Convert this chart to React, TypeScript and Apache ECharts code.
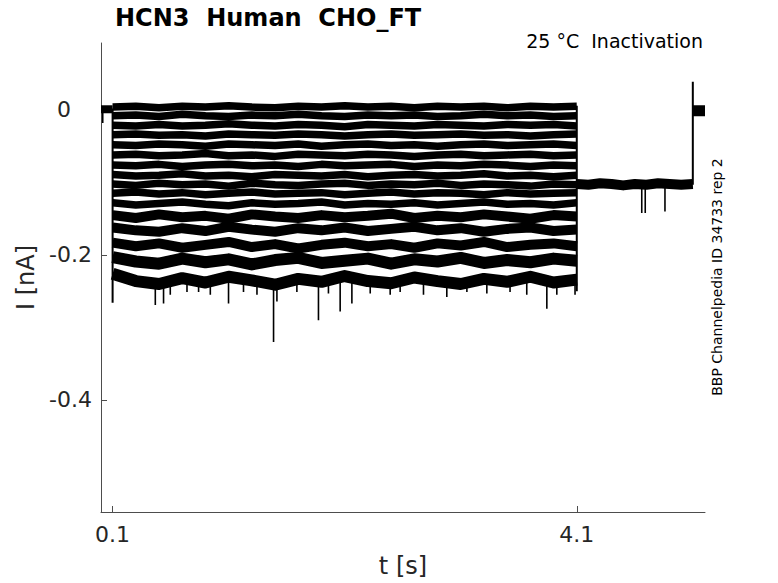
import React, { useEffect, useRef } from 'react';
import * as echarts from 'echarts';

// ---- time base of the 4 s conditioning step (s) ----
const TRACE_T = [0.1, 0.3, 0.5, 0.7, 0.9, 1.1, 1.3, 1.5, 1.7, 1.9, 2.1, 2.3, 2.5, 2.7, 2.9, 3.1, 3.3, 3.5, 3.7, 3.9, 4.1];

// ---- current traces during the step (nA) ----
const TRACE_1 = [0.004, 0.005, 0.003, 0.005, 0.004, 0.006, 0.004, 0.003, 0.005, 0.004, 0.006, 0.004, 0.005, 0.003, 0.005, 0.004, 0.005, 0.003, 0.005, 0.004, 0.005];
const TRACE_2 = [-0.008, -0.007, -0.009, -0.006, -0.008, -0.009, -0.007, -0.008, -0.006, -0.008, -0.009, -0.007, -0.008, -0.007, -0.009, -0.008, -0.006, -0.008, -0.007, -0.009, -0.008];
const TRACE_3 = [-0.021, -0.022, -0.02, -0.022, -0.021, -0.019, -0.021, -0.022, -0.02, -0.021, -0.023, -0.02, -0.021, -0.022, -0.02, -0.021, -0.022, -0.02, -0.021, -0.02, -0.022];
const TRACE_4 = [-0.034, -0.033, -0.035, -0.034, -0.036, -0.033, -0.034, -0.035, -0.033, -0.034, -0.036, -0.034, -0.033, -0.035, -0.034, -0.033, -0.035, -0.034, -0.036, -0.034, -0.033];
const TRACE_5 = [-0.048, -0.049, -0.047, -0.048, -0.05, -0.047, -0.048, -0.049, -0.047, -0.05, -0.048, -0.047, -0.049, -0.048, -0.05, -0.048, -0.047, -0.049, -0.048, -0.047, -0.049];
const TRACE_6 = [-0.062, -0.061, -0.063, -0.062, -0.06, -0.063, -0.062, -0.064, -0.061, -0.062, -0.063, -0.061, -0.062, -0.064, -0.062, -0.061, -0.063, -0.062, -0.061, -0.063, -0.062];
const TRACE_7 = [-0.076, -0.077, -0.075, -0.078, -0.076, -0.075, -0.077, -0.076, -0.078, -0.075, -0.077, -0.076, -0.075, -0.078, -0.076, -0.077, -0.075, -0.076, -0.078, -0.076, -0.077];
const TRACE_8 = [-0.089, -0.091, -0.09, -0.088, -0.091, -0.09, -0.092, -0.089, -0.09, -0.091, -0.089, -0.092, -0.09, -0.089, -0.091, -0.09, -0.088, -0.091, -0.09, -0.092, -0.09];
const TRACE_9 = [-0.102, -0.104, -0.101, -0.103, -0.102, -0.105, -0.101, -0.103, -0.104, -0.102, -0.101, -0.104, -0.102, -0.103, -0.101, -0.104, -0.102, -0.103, -0.105, -0.102, -0.103];
const TRACE_10 = [-0.115, -0.113, -0.116, -0.114, -0.117, -0.115, -0.113, -0.116, -0.115, -0.114, -0.117, -0.115, -0.113, -0.116, -0.114, -0.115, -0.117, -0.114, -0.116, -0.115, -0.114];
const TRACE_11 = [-0.128, -0.131, -0.129, -0.127, -0.13, -0.132, -0.128, -0.13, -0.129, -0.127, -0.131, -0.129, -0.13, -0.128, -0.131, -0.129, -0.127, -0.13, -0.129, -0.131, -0.128];
const TRACE_12 = [-0.145, -0.149, -0.144, -0.148, -0.146, -0.15, -0.144, -0.147, -0.149, -0.145, -0.148, -0.146, -0.143, -0.149, -0.146, -0.148, -0.144, -0.147, -0.15, -0.145, -0.147];
const TRACE_13 = [-0.162, -0.166, -0.168, -0.163, -0.167, -0.161, -0.165, -0.168, -0.163, -0.166, -0.162, -0.167, -0.164, -0.161, -0.166, -0.163, -0.168, -0.164, -0.162, -0.167, -0.165];
const TRACE_14 = [-0.183, -0.188, -0.184, -0.19, -0.186, -0.182, -0.189, -0.185, -0.191, -0.186, -0.183, -0.188, -0.185, -0.19, -0.184, -0.187, -0.182, -0.189, -0.186, -0.184, -0.188];
const TRACE_15 = [-0.203, -0.209, -0.212, -0.205, -0.21, -0.206, -0.213, -0.207, -0.204, -0.211, -0.208, -0.205, -0.212, -0.206, -0.209, -0.204, -0.211, -0.207, -0.21, -0.205, -0.208];
const TRACE_16 = [-0.226, -0.236, -0.24, -0.232, -0.238, -0.23, -0.235, -0.241, -0.233, -0.237, -0.229, -0.236, -0.239, -0.231, -0.236, -0.24, -0.233, -0.237, -0.23, -0.238, -0.234];
const TRACES = [TRACE_1, TRACE_2, TRACE_3, TRACE_4, TRACE_5, TRACE_6, TRACE_7, TRACE_8, TRACE_9, TRACE_10, TRACE_11, TRACE_12, TRACE_13, TRACE_14, TRACE_15, TRACE_16];

// ---- holding before the step, test pulse after it, return to holding ----
const PRE_T = [0, 0.1];
const PRE_V = [0.001, 0.001];
const TAIL_T = [4.1, 4.2, 4.3, 4.4, 4.5, 4.6, 4.7, 4.8, 4.9, 5.0, 5.1];
const TAIL_V = [-0.102, -0.103, -0.101, -0.102, -0.104, -0.102, -0.103, -0.101, -0.102, -0.103, -0.102];
const POST_T = [5.1, 5.205];
const POST_V = [-0.001, -0.001];

// ---- voltage-step transitions (vertical jumps) ----
const JUMP_T = [0.1, 4.1, 5.1];
const JUMP_TOP = [0.002, 0.006, 0.039];
const JUMP_BOTTOM = [-0.266, -0.25, -0.103];

// ---- downward noise spikes ----
const SPIKE_T = [0.015, 0.468, 0.539, 0.597, 0.741, 0.841, 0.942, 1.099, 1.228, 1.344, 1.487, 1.516, 1.688, 1.874, 1.96, 2.061, 2.162, 2.32, 2.492, 2.578, 2.779, 2.98, 3.153, 3.325, 3.525, 3.669, 3.842, 3.928, 4.085, 4.66, 4.69, 4.86];
const SPIKE_TOP = [0.001, -0.235, -0.235, -0.235, -0.235, -0.235, -0.235, -0.235, -0.235, -0.235, -0.235, -0.235, -0.235, -0.235, -0.235, -0.235, -0.235, -0.235, -0.235, -0.235, -0.235, -0.235, -0.235, -0.235, -0.235, -0.235, -0.235, -0.235, -0.235, -0.103, -0.103, -0.103];
const SPIKE_BOTTOM = [-0.018, -0.269, -0.267, -0.255, -0.251, -0.251, -0.255, -0.267, -0.251, -0.255, -0.32, -0.264, -0.251, -0.29, -0.253, -0.278, -0.267, -0.253, -0.255, -0.251, -0.255, -0.258, -0.251, -0.253, -0.251, -0.255, -0.274, -0.255, -0.255, -0.142, -0.142, -0.14];

// ---- axes ----
const X_TICKS = [0.1, 4.1];
const Y_TICKS = [0, -0.2, -0.4];
const X_RANGE = [0, 5.205];
const Y_RANGE = [-0.5545, 0.0924];

const TITLE = 'HCN3\u00a0\u00a0Human\u00a0\u00a0CHO_FT';
const SUBTITLE = '25 °C\u00a0\u00a0Inactivation';
const SIDE_NOTE = 'BBP Channelpedia ID 34733 rep 2';
const X_NAME = 't [s]';
const Y_NAME = 'I [nA]';

const FONT = 'DejaVu Sans';
const TEXT = '#262626';
const AXIS = '#4d4d4d';

function pairs(ts: number[], vs: number[]) {
  return ts.map((t, i) => [t, vs[i]]);
}
function segments(ts: number[], tops: number[], bottoms: number[]) {
  const out: any[] = [];
  ts.forEach((t, i) => {
    out.push([t, tops[i]], [t, bottoms[i]], [t, '-']);
  });
  return out;
}

export default function App() {
  const ref = useRef<HTMLDivElement>(null);
  useEffect(() => {
    if (!ref.current) return;
    const chart = echarts.init(ref.current, null, { renderer: 'svg' });
    const lineSeries = (data: any[], width: number) => ({
      type: 'line',
      data,
      symbol: 'none',
      silent: true,
      connectNulls: false,
      lineStyle: { color: '#000', width, join: 'round', cap: 'butt' },
    });
    const series: any[] = [];
    TRACES.forEach((vals, i) => {
      const w = i < 11 ? 7.5 : i < 14 ? 10 : 12;
      series.push(lineSeries(pairs(TRACE_T, vals), w));
    });
    series.push(lineSeries(pairs(PRE_T, PRE_V), 8));
    series.push(lineSeries(pairs(TAIL_T, TAIL_V), 10));
    series.push(lineSeries(pairs(POST_T, POST_V), 11));
    series.push(lineSeries(segments(JUMP_T, JUMP_TOP, JUMP_BOTTOM), 2));
    series.push(lineSeries(segments(SPIKE_T, SPIKE_TOP, SPIKE_BOTTOM), 1.6));

    chart.setOption({
      animation: false,
      grid: { left: 101, right: 73, top: 43, bottom: 71, containLabel: false },
      xAxis: {
        type: 'value',
        min: X_RANGE[0],
        max: X_RANGE[1],
        name: X_NAME,
        nameLocation: 'middle',
        nameGap: 42,
        nameTextStyle: { fontFamily: FONT, fontSize: 24, color: TEXT },
        axisLine: { show: true, onZero: false, lineStyle: { color: AXIS, width: 1 } },
        axisTick: { show: true, inside: true, length: 6, customValues: X_TICKS, lineStyle: { color: AXIS } },
        axisLabel: {
          customValues: X_TICKS,
          margin: 11,
          fontFamily: FONT,
          fontSize: 22,
          color: TEXT,
          formatter: (v: number) => String(v),
        },
        splitLine: { show: false },
      },
      yAxis: {
        type: 'value',
        min: Y_RANGE[0],
        max: Y_RANGE[1],
        name: Y_NAME,
        nameLocation: 'middle',
        nameGap: 58,
        nameTextStyle: { fontFamily: FONT, fontSize: 24, color: TEXT },
        axisLine: { show: true, onZero: false, lineStyle: { color: AXIS, width: 1 } },
        axisTick: { show: true, inside: true, length: 6, customValues: Y_TICKS, lineStyle: { color: AXIS } },
        axisLabel: {
          customValues: Y_TICKS,
          margin: 9,
          fontFamily: FONT,
          fontSize: 22,
          color: TEXT,
          formatter: (v: number) => (v === 0 ? '0\u00a0\u00a0\u00a0' : String(v)),
        },
        splitLine: { show: false },
      },
      graphic: [
        {
          type: 'text',
          x: 115,
          y: 18,
          style: { text: TITLE, fontFamily: FONT, fontSize: 24, fontWeight: 'bold', fill: '#000', align: 'left', verticalAlign: 'middle' },
        },
        {
          type: 'text',
          x: 703,
          y: 41,
          style: { text: SUBTITLE, fontFamily: FONT, fontSize: 19, fill: '#000', align: 'right', verticalAlign: 'middle' },
        },
        {
          type: 'text',
          x: 717,
          y: 277,
          rotation: Math.PI / 2,
          style: { text: SIDE_NOTE, fontFamily: FONT, fontSize: 14, fill: '#000', align: 'center', verticalAlign: 'middle' },
        },
      ],
      series,
    });
    return () => chart.dispose();
  }, []);
  return <div ref={ref} style={{ position: 'fixed', left: 0, top: 0, width: 778, height: 583, background: '#fff' }} />;
}
